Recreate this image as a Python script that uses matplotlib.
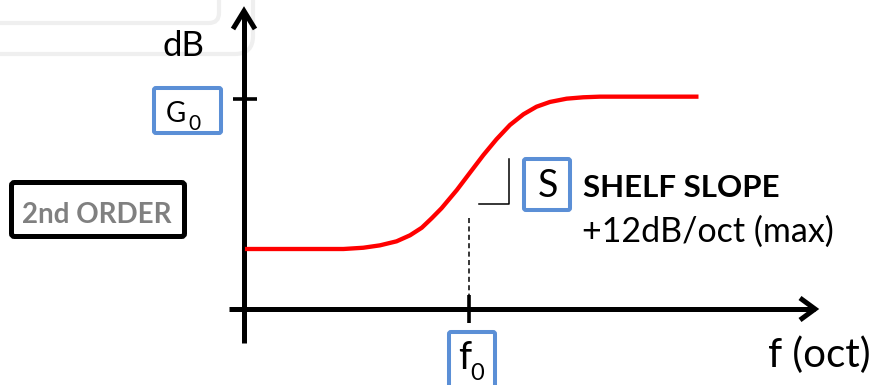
import numpy as np
import matplotlib
matplotlib.use("Agg")
import matplotlib.pyplot as plt
from matplotlib.patches import FancyBboxPatch

# shelf response (octaves relative to f0, dB above the low shelf)
octaves = [-4.98, -2.79, -2.35, -1.98, -1.61, -1.31, -1.05, -0.83, -0.61, -0.27,
           0.02, 0.32, 0.61, 0.91, 1.21, 1.50, 1.80, 2.17, 2.54, 2.91, 5.10]
gain_db = [0.00, 0.00, 0.10, 0.29, 0.61, 1.09, 1.69, 2.44, 3.24, 4.69,
           6.06, 7.47, 8.72, 9.86, 10.71, 11.31, 11.69, 11.95, 12.06, 12.11, 12.11]
f0_label = "f"
g0_label = "G"
slope_title = "SHELF SLOPE"
slope_text = "+12dB/oct (max)"
order_text = "2nd ORDER"
x_label = "f (oct)"
y_label = "dB"

W, H = 870, 385
FONT = "Lato"
BLUE = "#5b8fd6"

fig = plt.figure(figsize=(W / 100, H / 100), dpi=100)

# overlay in pixel units for the drawing furniture
ax = fig.add_axes([0, 0, 1, 1])
ax.set_xlim(0, W)
ax.set_ylim(H, 0)
ax.axis("off")

# data axes for the curve: f0 sits at x=469 px, 45 px per octave, 12.58 px per dB
px_oct, px_db = 45.0, 12.58
x0_px, y0_px = 469.0, 249.0
dax = fig.add_axes([0, 0, 1, 1], zorder=3)
dax.set_xlim(-x0_px / px_oct, (W - x0_px) / px_oct)
dax.set_ylim((y0_px - H) / px_db, y0_px / px_db)
dax.axis("off")
dax.patch.set_alpha(0)

# faint rounded frames from the slide behind
for (x1, y1, r) in [(219, 23, 10), (253, 54, 18)]:
    ax.add_patch(FancyBboxPatch((-100, -100), x1 + 100, y1 + 100,
                                boxstyle=f"round,pad=0,rounding_size={r}",
                                fill=False, ec="#efefef", lw=3))

# axes with open arrow heads
ax.plot([229, 815], [309, 309], color="black", lw=3.6, solid_capstyle="butt")
ax.plot([800, 815, 800], [298, 309, 320], color="black", lw=3.6,
        solid_joinstyle="miter", solid_capstyle="butt")
ax.plot([244, 244], [343, 11], color="black", lw=3.6, solid_capstyle="butt")
ax.plot([233, 244, 255], [29, 11, 29], color="black", lw=3.6,
        solid_joinstyle="miter", solid_capstyle="butt")

# ticks at G0 and f0
ax.plot([233, 257], [99, 99], color="black", lw=2.6, solid_capstyle="butt")
ax.plot([469, 469], [295, 323], color="black", lw=2.6, solid_capstyle="butt")
ax.plot([469, 469], [218, 295], color="black", lw=1.1, linestyle=(0, (3.3, 2.2)))

# slope corner
ax.plot([479, 509, 509], [204, 204, 159], color="black", lw=1.1)

# the curve
dax.plot(octaves, gain_db, color="red", lw=3.1, solid_capstyle="butt",
         solid_joinstyle="round")

# label boxes
def box(x, y, w, h, ec, lw, r=2):
    ax.add_patch(FancyBboxPatch((x, y), w, h, boxstyle=f"round,pad=0,rounding_size={r}",
                                fill=True, fc="white", ec=ec, lw=lw, zorder=4))

box(154, 88, 67, 45, BLUE, 2.9)
box(449, 332, 46, 60, BLUE, 2.9)
box(524, 159, 46, 51, BLUE, 2.9)
box(11.5, 182.5, 173, 54, "black", 3.6, r=3)

ax.text(163, 56, y_label, fontsize=25, family=FONT, va="baseline", ha="left")
ax.text(166, 122, g0_label, fontsize=20, family=FONT, va="baseline", ha="left", zorder=5)
ax.text(188.5, 130, "0", fontsize=15, family=FONT, va="baseline", ha="left", zorder=5)
ax.text(538, 197, "S", fontsize=27, family=FONT, va="baseline", ha="left", zorder=5)
ax.text(458, 369, f0_label, fontsize=27, family=FONT, va="baseline", ha="left", zorder=5)
ax.text(470.5, 380, "0", fontsize=17, family=FONT, va="baseline", ha="left", zorder=5)
ax.text(583, 197, slope_title, fontsize=22.5, family=FONT, weight="bold",
        va="baseline", ha="left")
ax.text(582, 242, slope_text, fontsize=24.5, family=FONT, va="baseline", ha="left")
ax.text(768, 367, x_label, fontsize=29, family=FONT, va="baseline", ha="left")
ax.text(22, 223, order_text, fontsize=20, family=FONT, weight="bold", color="#808080",
        va="baseline", ha="left", zorder=5)

fig.savefig("out.png", dpi=100)
